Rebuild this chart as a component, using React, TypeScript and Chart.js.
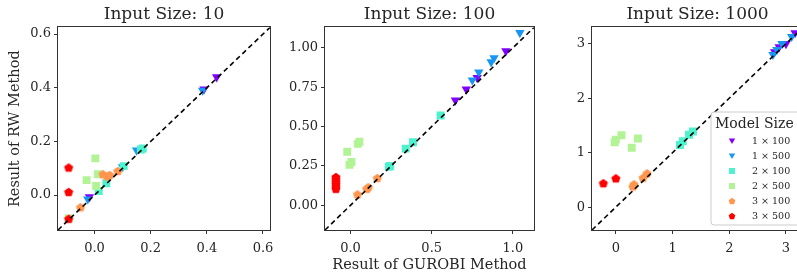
import React, { useEffect, useRef } from 'react';
import { Chart, registerables } from 'chart.js';

Chart.register(...registerables);

const SERIES = ['1 × 100', '1 × 500', '2 × 100', '2 × 500', '3 × 100', '3 × 500'];
const COLORS = ['#8000ff', '#1996f3', '#4df3ce', '#b2f396', '#ff964f', '#ff0000'];
const MARKERS = ['tri', 'tri', 'rect', 'rect', 'pent', 'pent'];

const TITLES = ['Input Size: 10', 'Input Size: 100', 'Input Size: 1000'];
const X_LABEL = 'Result of GUROBI Method';
const Y_LABEL = 'Result of RW Method';
const LEGEND_TITLE = 'Model Size';

// Input size 10
const GUROBI_10 = [
  [0.435, 0.39, -0.018, 0.63],
  [0.385, 0.15, 0.1, -0.024],
  [0.172, 0.165, 0.104, 0.042, 0.015],
  [0.003, -0.028, 0.012, 0.006, -0.092],
  [0.083, 0.054, 0.03, 0.045, -0.05],
  [-0.092, -0.092, -0.092],
];
const RW_10 = [
  [0.44, 0.395, -0.007, 0.632],
  [0.39, 0.167, 0.105, -0.015],
  [0.174, 0.17, 0.108, 0.044, 0.015],
  [0.137, 0.056, 0.078, 0.034, -0.087],
  [0.09, 0.075, 0.078, 0.07, -0.045],
  [0.103, 0.012, -0.088],
];

// Input size 100
const GUROBI_100 = [
  [0.957, 0.78, 0.713, 0.646],
  [1.043, 0.884, 0.866, 0.79, 0.75],
  [0.555, 0.385, 0.34, 0.244, 0.236],
  [0.055, 0.045, -0.02, 0.006, -0.006],
  [0.165, 0.11, 0.043, 0.1],
  [-0.09, -0.09, -0.09, -0.09, -0.09, -0.09],
];
const RW_100 = [
  [0.98, 0.81, 0.737, 0.667],
  [1.096, 0.936, 0.91, 0.846, 0.795],
  [0.57, 0.4, 0.36, 0.25, 0.245],
  [0.404, 0.39, 0.34, 0.275, 0.257],
  [0.173, 0.115, 0.07, 0.105],
  [0.18, 0.165, 0.15, 0.135, 0.12, 0.105],
];

// Input size 1000
const GUROBI_1000 = [
  [3.16, 3.0, 2.88, 2.8],
  [3.1, 2.93, 2.84, 2.77],
  [1.36, 1.29, 1.18, 1.13],
  [0.1, -0.02, 0.0, 0.28, 0.39],
  [0.55, 0.48, 0.32, 0.3],
  [-0.22, 0.0],
];
const RW_1000 = [
  [3.2, 3.0, 2.94, 2.85],
  [3.13, 3.0, 2.89, 2.8],
  [1.39, 1.33, 1.21, 1.14],
  [1.32, 1.19, 1.24, 1.09, 1.26],
  [0.62, 0.54, 0.42, 0.38],
  [0.44, 0.53],
];

const GUROBI = [GUROBI_10, GUROBI_100, GUROBI_1000];
const RW = [RW_10, RW_100, RW_1000];
const LIMITS = [[-0.13, 0.625], [-0.157, 1.13], [-0.42, 3.3]];
const X_TICKS = [[0, 0.2, 0.4, 0.6], [0, 0.5, 1.0], [0, 1, 2, 3]];
const Y_TICKS = [[0, 0.2, 0.4, 0.6], [0, 0.25, 0.5, 0.75, 1.0], [0, 1, 2, 3]];
const X_DEC = [1, 1, 0];
const Y_DEC = [1, 2, 0];

const FONT = 'DejaVu Serif';
const TEXT = '#262626';
const FRAME = '#333333';

const PANEL_LEFT = [0, 265, 530];
const PANEL_W = 290;
const PANEL_H = 275;
const Y_AXIS_W = [58, 60, 62];
// chart-area right edges in page coordinates
const PLOT_RIGHT = [270, 534, 803];

function pentagonPath(ctx: CanvasRenderingContext2D, cx: number, cy: number, r: number) {
  ctx.beginPath();
  for (let k = 0; k < 5; k++) {
    const a = -Math.PI / 2 + (k * 2 * Math.PI) / 5;
    const px = cx + r * Math.cos(a);
    const py = cy + r * Math.sin(a);
    if (k === 0) ctx.moveTo(px, py);
    else ctx.lineTo(px, py);
  }
  ctx.closePath();
}

function pentagonImage(color: string, r: number) {
  const c = document.createElement('canvas');
  const s = Math.ceil(2 * r + 2);
  c.width = s;
  c.height = s;
  const ctx = c.getContext('2d')!;
  pentagonPath(ctx, s / 2, s / 2 + r * 0.1, r);
  ctx.fillStyle = color;
  ctx.fill();
  return c;
}

const framePlugin = {
  id: 'frame',
  afterDatasetsDraw(chart: any) {
    const { ctx, chartArea: a } = chart;
    ctx.save();
    ctx.strokeStyle = FRAME;
    ctx.lineWidth = 1;
    ctx.strokeRect(Math.round(a.left) - 0.5, Math.round(a.top) - 0.5, Math.round(a.width) + 1, Math.round(a.height) + 1);
    ctx.restore();
  },
};

const legendPlugin = {
  id: 'insetLegend',
  afterDraw(chart: any) {
    const ctx: CanvasRenderingContext2D = chart.ctx;
    const left = 181;
    const top = 112;
    const right = 272;
    const bottom = 225;
    ctx.save();
    ctx.beginPath();
    const r = 3;
    ctx.moveTo(left + r, top);
    ctx.lineTo(right - r, top);
    ctx.quadraticCurveTo(right, top, right, top + r);
    ctx.lineTo(right, bottom - r);
    ctx.quadraticCurveTo(right, bottom, right - r, bottom);
    ctx.lineTo(left + r, bottom);
    ctx.quadraticCurveTo(left, bottom, left, bottom - r);
    ctx.lineTo(left, top + r);
    ctx.quadraticCurveTo(left, top, left + r, top);
    ctx.closePath();
    ctx.fillStyle = 'rgba(255,255,255,0.85)';
    ctx.fill();
    ctx.strokeStyle = '#cccccc';
    ctx.lineWidth = 1;
    ctx.stroke();

    ctx.fillStyle = TEXT;
    ctx.textBaseline = 'middle';
    ctx.textAlign = 'left';
    ctx.font = `14px "${FONT}"`;
    ctx.fillText(LEGEND_TITLE, 185, 124);

    ctx.font = `9.5px "${FONT}"`;
    SERIES.forEach((name, s) => {
      const y = 141 + s * 15;
      const x = 202;
      ctx.fillStyle = COLORS[s];
      if (MARKERS[s] === 'tri') {
        ctx.beginPath();
        ctx.moveTo(x - 3.2, y - 2.6);
        ctx.lineTo(x + 3.2, y - 2.6);
        ctx.lineTo(x, y + 3);
        ctx.closePath();
        ctx.fill();
      } else if (MARKERS[s] === 'rect') {
        ctx.fillRect(x - 3, y - 3, 6, 6);
      } else {
        pentagonPath(ctx, x, y + 0.3, 3.5);
        ctx.fill();
      }
      ctx.fillStyle = TEXT;
      ctx.fillText(name, 222, y + 0.5);
    });
    ctx.restore();
  },
};

function makeChart(i: number, canvas: HTMLCanvasElement) {
  const [min, max] = LIMITS[i];
  const pent = COLORS.map((c) => pentagonImage(c, 4.8));
  const datasets: any[] = SERIES.map((name, s) => ({
    label: name,
    data: GUROBI[i][s].map((x, k) => ({ x, y: RW[i][s][k] })),
    pointStyle: MARKERS[s] === 'tri' ? 'triangle' : MARKERS[s] === 'rect' ? 'rect' : pent[s],
    rotation: MARKERS[s] === 'tri' ? 180 : 0,
    pointRadius: MARKERS[s] === 'tri' ? 5.4 : 5.6,
    backgroundColor: COLORS[s],
    borderColor: COLORS[s],
    borderWidth: 0,
    order: 6 - s,
    clip: 0,
  }));
  datasets.push({
    label: 'y = x',
    data: [
      { x: min, y: min },
      { x: max, y: max },
    ],
    showLine: true,
    borderColor: '#000000',
    borderWidth: 1.6,
    borderDash: [5, 3.5],
    pointRadius: 0,
    order: 0,
    clip: 0,
  });

  const tickFont = { family: FONT, size: 13 };
  const plugins: any[] = [framePlugin];
  if (i === 2) plugins.push(legendPlugin);

  return new Chart(canvas, {
    type: 'scatter',
    data: { datasets },
    plugins,
    options: {
      responsive: false,
      animation: false,
      events: [],
      layout: { padding: { top: 4, left: 0, bottom: 0, right: PANEL_LEFT[i] + PANEL_W - PLOT_RIGHT[i] } },
      plugins: {
        legend: { display: false },
        tooltip: { enabled: false },
        title: {
          display: true,
          fullSize: false,
          text: TITLES[i],
          color: TEXT,
          font: { family: FONT, size: 17, weight: 'normal', lineHeight: 1.2 },
          padding: { top: 0, bottom: 3 },
        },
      },
      scales: {
        x: {
          type: 'linear',
          min,
          max,
          afterFit: (scale: any) => {
            scale.height = 45;
          },
          afterBuildTicks: (scale: any) => {
            scale.ticks = X_TICKS[i].map((v) => ({ value: v }));
          },
          ticks: {
            color: TEXT,
            font: tickFont,
            padding: 7,
            maxRotation: 0,
            autoSkip: false,
            callback: (v: any) => Number(v).toFixed(X_DEC[i]),
          },
          grid: { drawOnChartArea: false, drawTicks: true, tickLength: 4, tickColor: FRAME, color: FRAME },
          border: { display: false },
          title: {
            display: i === 1,
            text: X_LABEL,
            color: TEXT,
            font: { family: FONT, size: 14.5, lineHeight: 1.2 },
            padding: { top: 1.3, bottom: 1.3 },
          },
        },
        y: {
          type: 'linear',
          min,
          max,
          afterFit: (scale: any) => {
            scale.width = Y_AXIS_W[i];
          },
          afterBuildTicks: (scale: any) => {
            scale.ticks = Y_TICKS[i].map((v) => ({ value: v }));
          },
          ticks: {
            color: TEXT,
            font: tickFont,
            padding: 3,
            autoSkip: false,
            callback: (v: any) => Number(v).toFixed(Y_DEC[i]),
          },
          grid: { drawOnChartArea: false, drawTicks: true, tickLength: 4, tickColor: FRAME, color: FRAME },
          border: { display: false },
          title: {
            display: i === 0,
            text: Y_LABEL,
            color: TEXT,
            font: { family: FONT, size: 14.5, lineHeight: 1.2 },
            padding: { top: 6.3, bottom: 0 },
          },
        },
      },
    } as any,
  });
}

export default function App() {
  const r0 = useRef<HTMLCanvasElement>(null);
  const r1 = useRef<HTMLCanvasElement>(null);
  const r2 = useRef<HTMLCanvasElement>(null);

  useEffect(() => {
    const refs = [r0, r1, r2];
    const charts = refs.map((r, i) => makeChart(i, r.current!));
    return () => charts.forEach((c) => c.destroy());
  }, []);

  const refs = [r0, r1, r2];
  return (
    <div
      style={{
        position: 'absolute',
        left: 0,
        top: 0,
        width: 797,
        height: 275,
        overflow: 'hidden',
        background: '#ffffff',
      }}
    >
      {refs.map((r, i) => (
        <canvas
          key={i}
          ref={r}
          width={PANEL_W}
          height={PANEL_H}
          style={{ position: 'absolute', left: PANEL_LEFT[i], top: 0, width: PANEL_W, height: PANEL_H }}
        />
      ))}
    </div>
  );
}
